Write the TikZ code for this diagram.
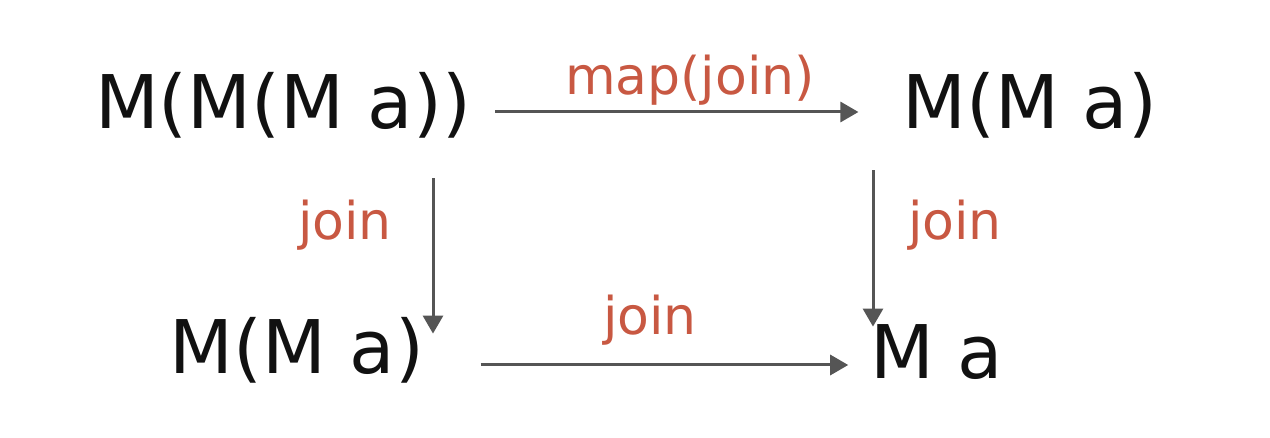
\documentclass[tikz,border=0pt]{standalone}
\usepackage{fontspec}
\setmainfont{DejaVu Sans}
\usetikzlibrary{arrows.meta}
\definecolor{lbl}{RGB}{200,88,66}
\definecolor{arrc}{RGB}{85,85,85}
\definecolor{txt}{RGB}{17,17,17}
\begin{document}
\begin{tikzpicture}[x=0.5pt,y=-0.5pt,
  obj/.style={inner sep=0pt, text height=26pt, text depth=7pt, text=txt, font=\fontsize{37}{40}\selectfont},
  lab/.style={inner sep=0pt, text=lbl, font=\fontsize{26}{30}\selectfont},
  arr/.style={draw=arrc, line width=1.5pt, -{Triangle[length=9pt,width=10pt]}}]
\useasboundingbox (0,0) rectangle (1270,438);
\node[obj] (A) at (283,110) {M(M(M a))};
\node[obj] (B) at (1030,110) {M(M a)};
\node[obj] (C) at (297,355) {M(M a)};
\node[obj] (D) at (937,360) {M a};
\coordinate (vl) at (433,0);
\coordinate (vr) at (873,0);
\draw[arr, shorten <=12pt, shorten >=22pt] ([yshift=-1pt]A.east) -- ([yshift=-1pt]B.west);
\draw[arr, shorten <=17.5pt, shorten >=-6pt] (A.south -| vl) -- (C.north -| vl);
\draw[arr, shorten <=13.5pt, shorten >=0pt] (B.south -| vr) -- (D.north -| vr);
\draw[arr, shorten <=28pt, shorten >=11pt] ([yshift=-2.5pt]C.east |- D) -- ([yshift=-2.5pt]D.west);
\node[lab] (l1) at (690,80) {map(join)};
\node[lab] (l2) at (345,225) {join};
\node[lab] (l3) at (955,225) {join};
\node[lab] (l4) at (650,320) {join};
\end{tikzpicture}
\end{document}
